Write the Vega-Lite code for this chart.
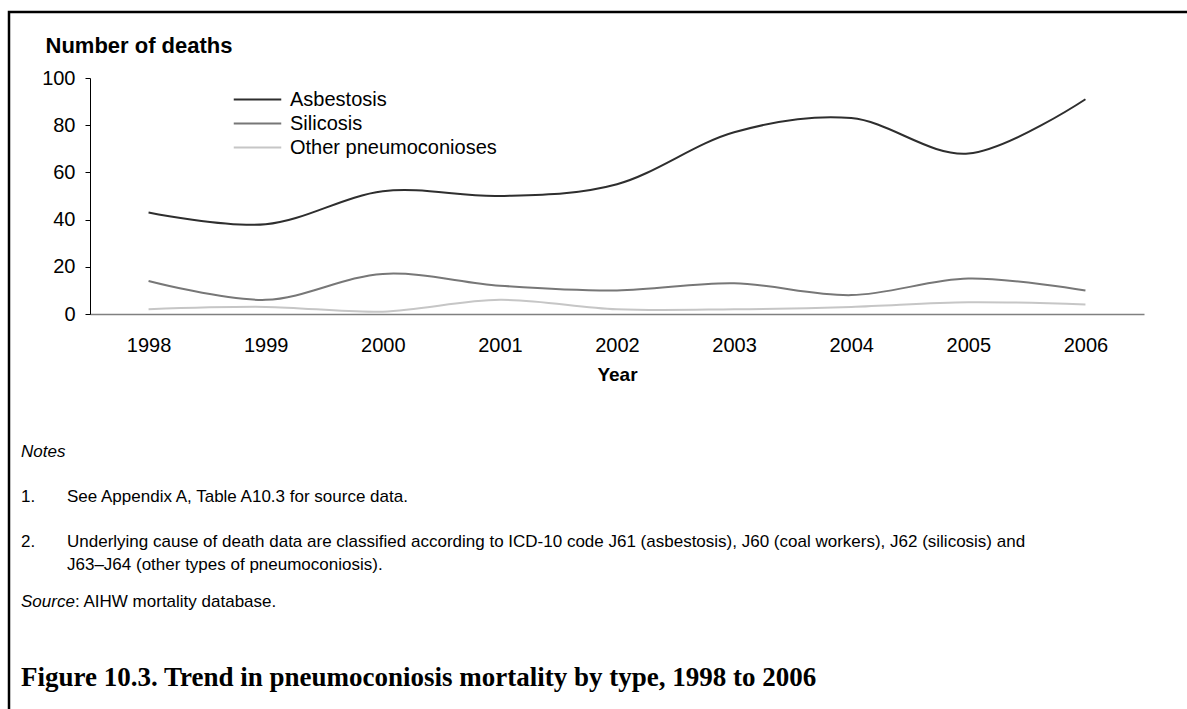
{
  "$schema": "https://vega.github.io/schema/vega-lite/v6.json",
  "autosize": "none",
  "width": 1180,
  "height": 699,
  "padding": {"left": 9, "top": 12, "right": 0, "bottom": 0},
  "background": "white",
  "config": {
    "view": {"stroke": "black", "strokeWidth": 2.5},
    "font": "Liberation Sans",
    "text": {"font": "Liberation Sans", "color": "black"}
  },
  "datasets": {
    "series": [
      {"year": "1998", "type": "Asbestosis", "deaths": 43},
      {"year": "1999", "type": "Asbestosis", "deaths": 38},
      {"year": "2000", "type": "Asbestosis", "deaths": 52},
      {"year": "2001", "type": "Asbestosis", "deaths": 50},
      {"year": "2002", "type": "Asbestosis", "deaths": 55},
      {"year": "2003", "type": "Asbestosis", "deaths": 77},
      {"year": "2004", "type": "Asbestosis", "deaths": 83},
      {"year": "2005", "type": "Asbestosis", "deaths": 68},
      {"year": "2006", "type": "Asbestosis", "deaths": 91},
      {"year": "1998", "type": "Silicosis", "deaths": 14},
      {"year": "1999", "type": "Silicosis", "deaths": 6},
      {"year": "2000", "type": "Silicosis", "deaths": 17},
      {"year": "2001", "type": "Silicosis", "deaths": 12},
      {"year": "2002", "type": "Silicosis", "deaths": 10},
      {"year": "2003", "type": "Silicosis", "deaths": 13},
      {"year": "2004", "type": "Silicosis", "deaths": 8},
      {"year": "2005", "type": "Silicosis", "deaths": 15},
      {"year": "2006", "type": "Silicosis", "deaths": 10},
      {"year": "1998", "type": "Other pneumoconioses", "deaths": 2},
      {"year": "1999", "type": "Other pneumoconioses", "deaths": 3},
      {"year": "2000", "type": "Other pneumoconioses", "deaths": 1},
      {"year": "2001", "type": "Other pneumoconioses", "deaths": 6},
      {"year": "2002", "type": "Other pneumoconioses", "deaths": 2},
      {"year": "2003", "type": "Other pneumoconioses", "deaths": 2},
      {"year": "2004", "type": "Other pneumoconioses", "deaths": 3},
      {"year": "2005", "type": "Other pneumoconioses", "deaths": 5},
      {"year": "2006", "type": "Other pneumoconioses", "deaths": 4}
    ],
    "notes": [
      {"line": 1, "column": "margin", "role": "heading", "text": "Notes"},
      {"line": 2, "column": "margin", "role": "body", "text": "1."},
      {"line": 2, "column": "indent", "role": "body", "text": "See Appendix A, Table A10.3 for source data."},
      {"line": 3, "column": "margin", "role": "body", "text": "2."},
      {"line": 3, "column": "indent", "role": "body", "text": "Underlying cause of death data are classified according to ICD-10 code J61 (asbestosis), J60 (coal workers), J62 (silicosis) and"},
      {"line": 4, "column": "indent", "role": "body", "text": "J63–J64 (other types of pneumoconiosis)."},
      {"line": 5, "column": "margin", "role": "heading", "text": "Source"},
      {"line": 5, "column": "margin", "role": "source", "text": ": AIHW mortality database."},
      {"line": 6, "column": "margin", "role": "caption", "text": "Figure 10.3. Trend in pneumoconiosis mortality by type, 1998 to 2006"}
    ]
  },
  "layer": [
    {
      "data": {"name": "series"},
      "mark": {"type": "line", "interpolate": "cardinal", "strokeWidth": 2},
      "encoding": {
        "x": {
          "field": "year", "type": "ordinal",
          "scale": {"type": "point", "range": [81, 1135], "padding": 0.5},
          "axis": {
            "orient": "bottom", "offset": -397, "title": "Year",
            "labelAngle": 0, "labelFontSize": 20, "labelColor": "black", "labelFont": "Liberation Sans",
            "labelPadding": 21, "ticks": false, "tickSize": 0,
            "domainColor": "#808080", "domainWidth": 1.5,
            "titleFont": "Liberation Sans", "titleFontSize": 19, "titleFontWeight": "bold", "titleColor": "black",
            "titlePadding": 10, "grid": false
          }
        },
        "y": {
          "field": "deaths", "type": "quantitative",
          "scale": {"domain": [0, 100], "range": [302, 66], "nice": false, "zero": true},
          "axis": {
            "orient": "left", "offset": -81, "values": [0, 20, 40, 60, 80, 100],
            "title": "Number of deaths", "titleAngle": 0, "titleAlign": "left", "titleBaseline": "alphabetic",
            "titleX": -45, "titleY": 40, "titleFont": "Liberation Sans", "titleFontSize": 22, "titleFontWeight": "bold", "titleColor": "black",
            "labelFontSize": 20, "labelColor": "black", "labelFont": "Liberation Sans", "labelPadding": 10,
            "tickColor": "black", "tickSize": 5, "domainColor": "black", "domainWidth": 1, "grid": false
          }
        },
        "color": {
          "field": "type", "type": "nominal",
          "scale": {"domain": ["Asbestosis", "Silicosis", "Other pneumoconioses"], "range": ["#2e2e2e", "#777777", "#c6c6c6"]},
          "legend": {
            "orient": "none", "legendX": 238, "legendY": 77, "title": null,
            "symbolType": "M-2.5,0H2.5", "symbolSize": 361, "symbolStrokeWidth": 2,
            "labelFontSize": 20, "labelFont": "Liberation Sans", "labelColor": "black", "labelOffset": 22,
            "labelLimit": 0, "rowPadding": 3
          }
        }
      }
    },
    {
      "data": {"name": "notes"},
      "transform": [{"filter": "datum.role === 'heading'"}],
      "mark": {"type": "text", "align": "left", "baseline": "middle", "fontSize": 17, "fontStyle": "italic", "font": "Liberation Sans"},
      "encoding": {
        "x": {"field": "column", "type": "nominal", "scale": {"type": "point", "domain": ["margin", "indent"], "range": [12, 58], "padding": 0}, "axis": null},
        "y": {"field": "line", "type": "quantitative", "scale": {"domain": [1, 2, 3, 4, 5, 6], "range": [440, 485, 530, 553, 590, 666]}, "axis": null},
        "text": {"field": "text"}
      }
    },
    {
      "data": {"name": "notes"},
      "transform": [{"filter": "datum.role === 'body'"}],
      "mark": {"type": "text", "align": "left", "baseline": "middle", "fontSize": 17, "font": "Liberation Sans"},
      "encoding": {
        "x": {"field": "column", "type": "nominal", "scale": {"type": "point", "domain": ["margin", "indent"], "range": [12, 58], "padding": 0}, "axis": null},
        "y": {"field": "line", "type": "quantitative", "scale": {"domain": [1, 2, 3, 4, 5, 6], "range": [440, 485, 530, 553, 590, 666]}, "axis": null},
        "text": {"field": "text"}
      }
    },
    {
      "data": {"name": "notes"},
      "transform": [{"filter": "datum.role === 'source'"}],
      "mark": {"type": "text", "align": "left", "baseline": "middle", "fontSize": 17, "font": "Liberation Sans", "dx": 54},
      "encoding": {
        "x": {"field": "column", "type": "nominal", "scale": {"type": "point", "domain": ["margin", "indent"], "range": [12, 58], "padding": 0}, "axis": null},
        "y": {"field": "line", "type": "quantitative", "scale": {"domain": [1, 2, 3, 4, 5, 6], "range": [440, 485, 530, 553, 590, 666]}, "axis": null},
        "text": {"field": "text"}
      }
    },
    {
      "data": {"name": "notes"},
      "transform": [{"filter": "datum.role === 'caption'"}],
      "mark": {"type": "text", "align": "left", "baseline": "middle", "fontSize": 27, "fontWeight": "bold", "font": "Liberation Serif"},
      "encoding": {
        "x": {"field": "column", "type": "nominal", "scale": {"type": "point", "domain": ["margin", "indent"], "range": [12, 58], "padding": 0}, "axis": null},
        "y": {"field": "line", "type": "quantitative", "scale": {"domain": [1, 2, 3, 4, 5, 6], "range": [440, 485, 530, 553, 590, 666]}, "axis": null},
        "text": {"field": "text"}
      }
    }
  ],
  "resolve": {"scale": {"x": "independent", "y": "independent"}}
}
